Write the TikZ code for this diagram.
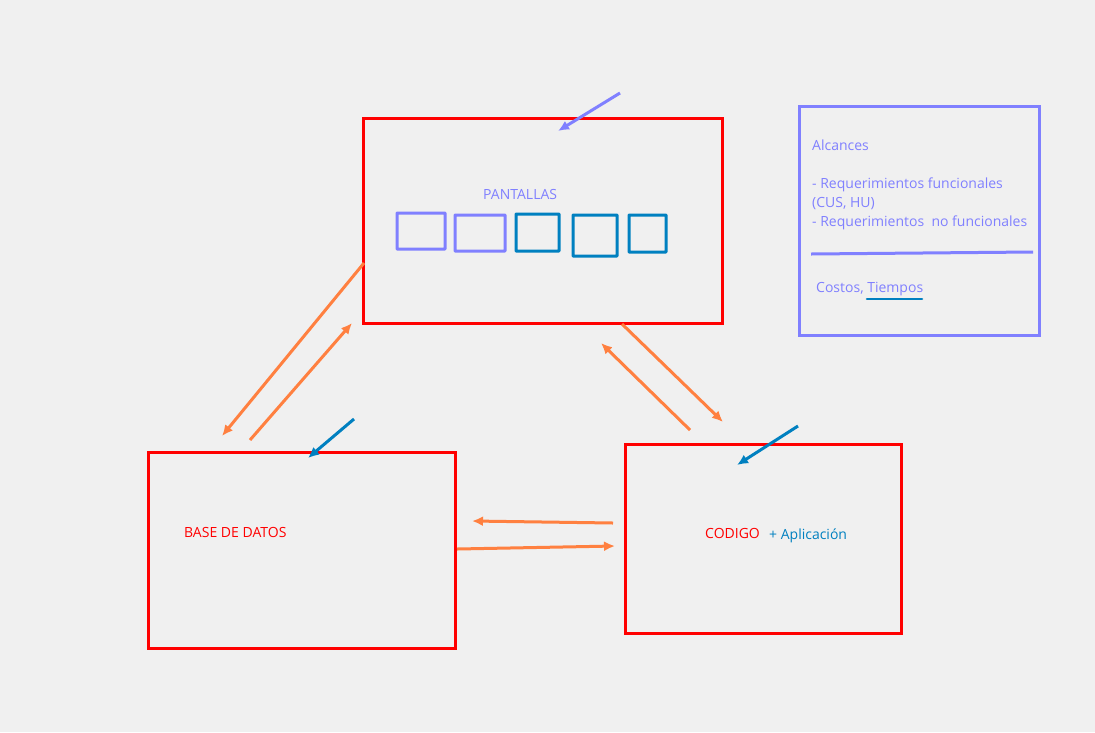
\documentclass[tikz,border=0pt]{standalone}
\usepackage{fontspec}
\setmainfont{Open Sans}
\usetikzlibrary{arrows.meta}
\definecolor{bg}{HTML}{F0F0F0}
\definecolor{boxred}{HTML}{FF0000}
\definecolor{lilac}{HTML}{8080FF}
\definecolor{deepblue}{HTML}{0080C0}
\definecolor{peach}{HTML}{FF8040}
\tikzset{
  bigbox/.style={draw=boxred, line width=3pt},
  screen/.style={line width=3pt, rounded corners=0.6pt},
  link/.style={draw=peach, line width=3pt, -{Latex[length=11pt,width=10pt]}},
  pointer/.style={line width=3pt, -{Latex[length=11pt,width=10pt]}},
  lbl/.style={font=\fontsize{14}{16}\selectfont, anchor=base west, inner sep=0pt},
}
\begin{document}
\begin{tikzpicture}[x=1pt,y=-1pt]
\fill[bg] (0,0) rectangle (1095,732);
\useasboundingbox (0,0) rectangle (1095,732);

% main blocks
\draw[bigbox] (363,118) rectangle (722,323);
\draw[bigbox] (148,452) rectangle (455,648);
\draw[bigbox] (625,444) rectangle (901,633);

% screens
\node[lbl, text=lilac] (ptxt) at (483,199) {PANTALLAS};
\draw[screen, draw=lilac] (397,213) rectangle (445,249);
\draw[screen, draw=lilac] (455,215) rectangle (505,251);
\draw[screen, draw=deepblue] (516,214) rectangle (559,251);
\draw[screen, draw=deepblue] (573,215) rectangle (617,256);
\draw[screen, draw=deepblue] (629,215) rectangle (666,252);

\node[lbl, text=boxred] (bd) at (184,537) {BASE DE DATOS};
\node[lbl, text=boxred] (cod) at (705,538) {CODIGO};
\node[lbl, text=deepblue] (app) at (769,539) {+ Aplicación};

% scope panel
\draw[draw=lilac, line width=3pt] (799,106) rectangle (1039,335);
\node[lbl, text=lilac] (alc) at (812,150) {Alcances};
\node[lbl, text=lilac] (rf) at (812,188) {- Requerimientos funcionales};
\node[lbl, text=lilac] (cus) at (812,207) {(CUS, HU)};
\node[lbl, text=lilac] (rnf) at (812,226) {- Requerimientos\ \ no funcionales};
\coordinate (sepA) at (811,254);
\coordinate (sepB) at (1033,252);
\draw[draw=lilac, line width=3pt] (sepA) -- (sepB);
\node[lbl, text=lilac] (ct) at (816,292) {Costos, Tiempos};
\coordinate (ulA) at (867,299);
\coordinate (ulB) at (922,299);
\draw[draw=deepblue, line width=2.6pt, line cap=round] (ulA) -- (ulB);

% connector end points
\coordinate (a1s) at (364,263);  \coordinate (a1e) at (222,436);
\coordinate (a2s) at (250,440);  \coordinate (a2e) at (352,323);
\coordinate (a3s) at (622,324);  \coordinate (a3e) at (723,422);
\coordinate (a4s) at (690,430);  \coordinate (a4e) at (601,343);
\coordinate (a5s) at (613,523);  \coordinate (a5e) at (472,521);
\coordinate (a6s) at (457,549);  \coordinate (a6e) at (615,546);
\draw[link] (a1s) -- (a1e);
\draw[link] (a2s) -- (a2e);
\draw[link] (a3s) -- (a3e);
\draw[link] (a4s) -- (a4e);
\draw[link] (a5s) -- (a5e);
\draw[link] (a6s) -- (a6e);

% pointers
\coordinate (p1s) at (620,93);  \coordinate (p1e) at (558,131);
\coordinate (p2s) at (354,419); \coordinate (p2e) at (308,458);
\coordinate (p3s) at (798,426); \coordinate (p3e) at (737,465);
\draw[pointer, draw=lilac] (p1s) -- (p1e);
\draw[pointer, draw=deepblue] (p2s) -- (p2e);
\draw[pointer, draw=deepblue] (p3s) -- (p3e);
\end{tikzpicture}
\end{document}
